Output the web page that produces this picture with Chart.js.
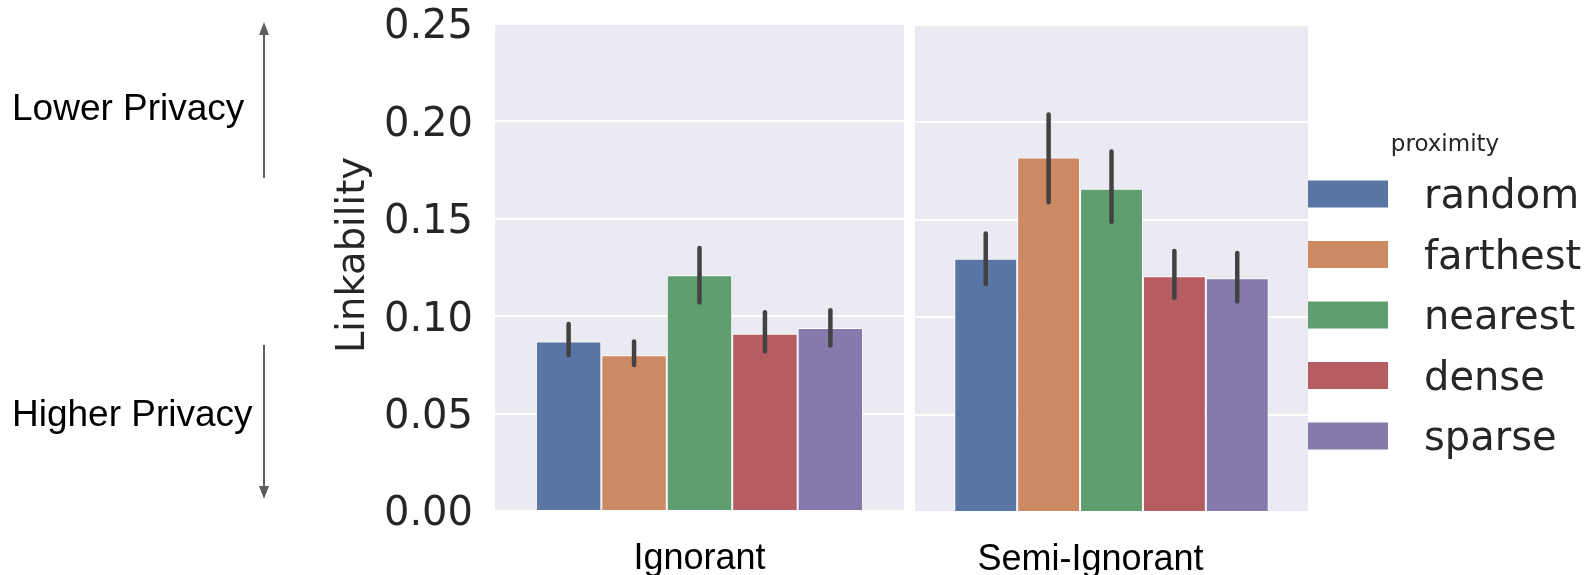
<!DOCTYPE html>
<html>
<head>
<meta charset="utf-8">
<script src="https://cdn.jsdelivr.net/npm/chart.js@4.4.0/dist/chart.umd.min.js"></script>
<style>
  html, body { margin: 0; padding: 0; background: #ffffff; }
  body { width: 1591px; height: 575px; position: relative; overflow: hidden; }
  canvas { position: absolute; top: 0; }
  #leftChart { left: 0; }
  #rightChart { left: 910px; }
</style>
</head>
<body>
<canvas id="leftChart" width="904" height="575"></canvas>
<canvas id="rightChart" width="681" height="575"></canvas>
<script>
// proximity strategies (hue) and their colours
const proximity = ["random", "farthest", "nearest", "dense", "sparse"];
const colors = ["#5975a4", "#cc8963", "#5f9e6e", "#b55d60", "#857aab"];
const yTicks = [0, 0.05, 0.10, 0.15, 0.20, 0.25];

// Ignorant panel
const ignorantMean = [0.087, 0.080, 0.121, 0.091, 0.094];
const ignorantLow  = [0.080, 0.075, 0.107, 0.082, 0.085];
const ignorantHigh = [0.096, 0.087, 0.135, 0.102, 0.103];

// Semi-Ignorant panel
const semiMean = [0.130, 0.182, 0.166, 0.121, 0.120];
const semiLow  = [0.117, 0.159, 0.149, 0.110, 0.108];
const semiHigh = [0.143, 0.204, 0.185, 0.134, 0.133];

const TICK_FONT = "DejaVu Sans";
const LABEL_FONT = "Liberation Sans";
const DARK = "#262626";

const panelBg = {
    id: "panelBg",
    beforeDraw(chart) {
        const { ctx, chartArea: a } = chart;
        ctx.save();
        ctx.fillStyle = "#eaeaf2";
        ctx.fillRect(a.left, a.top, a.width, a.height);
        ctx.restore();
    },
};

const errorBars = {
    id: "errorBars",
    afterDatasetsDraw(chart) {
        const ctx = chart.ctx;
        const y = chart.scales.y;
        ctx.save();
        ctx.strokeStyle = "#424242";
        ctx.lineWidth = 4.5;
        ctx.lineCap = "round";
        chart.data.datasets.forEach((ds, i) => {
            const meta = chart.getDatasetMeta(i);
            meta.data.forEach((bar) => {
                ctx.beginPath();
                ctx.moveTo(bar.x, y.getPixelForValue(ds.errLow));
                ctx.lineTo(bar.x, y.getPixelForValue(ds.errHigh));
                ctx.stroke();
            });
        });
        ctx.restore();
    },
};

// y label, privacy notes and arrows on the left
const leftNotes = {
    id: "leftNotes",
    afterDraw(chart) {
        const ctx = chart.ctx;
        ctx.save();
        ctx.fillStyle = DARK;
        ctx.font = `38.5px "${TICK_FONT}"`;
        ctx.textAlign = "center";
        ctx.textBaseline = "alphabetic";
        ctx.translate(364, 255);
        ctx.rotate(-Math.PI / 2);
        ctx.fillText("Linkability", 0, 0);
        ctx.restore();

        ctx.save();
        ctx.fillStyle = "#000000";
        ctx.font = `37px "${LABEL_FONT}"`;
        ctx.textAlign = "left";
        ctx.textBaseline = "alphabetic";
        ctx.fillText("Lower Privacy", 12, 120);
        ctx.fillText("Higher Privacy", 12, 426);

        const arrow = (x, y0, y1) => {
            const dir = Math.sign(y1 - y0);
            ctx.strokeStyle = "#5f5f5f";
            ctx.fillStyle = "#5f5f5f";
            ctx.lineWidth = 2;
            ctx.beginPath();
            ctx.moveTo(x, y0);
            ctx.lineTo(x, y1 - dir * 10);
            ctx.stroke();
            ctx.beginPath();
            ctx.moveTo(x, y1);
            ctx.lineTo(x - 5, y1 - dir * 13);
            ctx.lineTo(x + 5, y1 - dir * 13);
            ctx.closePath();
            ctx.fill();
        };
        arrow(264, 178, 22);
        arrow(264, 345, 499);
        ctx.restore();
    },
};

const hueLegend = {
    id: "hueLegend",
    afterDraw(chart) {
        const ctx = chart.ctx;
        const x0 = chart.chartArea.right;
        ctx.save();
        ctx.fillStyle = DARK;
        ctx.font = `23px "${TICK_FONT}"`;
        ctx.textAlign = "center";
        ctx.textBaseline = "alphabetic";
        ctx.fillText("proximity", x0 + 137, 151);

        ctx.font = `40px "${TICK_FONT}"`;
        ctx.textAlign = "left";
        chart.data.datasets.forEach((ds, i) => {
            const cy = 194 + i * 60.5;
            ctx.fillStyle = ds.backgroundColor;
            ctx.fillRect(x0, cy - 13.5, 80, 27);
            ctx.fillStyle = DARK;
            ctx.fillText(ds.label, x0 + 116, cy + 14);
        });
        ctx.restore();
    },
};

function makeDatasets(means, lows, highs) {
    return proximity.map((name, i) => ({
        label: name,
        data: [means[i]],
        errLow: lows[i],
        errHigh: highs[i],
        backgroundColor: colors[i],
        borderColor: "#ffffff",
        borderWidth: 1,
        categoryPercentage: 0.8,
        barPercentage: 1.0,
    }));
}

function makeChart(canvasId, category, means, lows, highs, opts) {
    const ctx = document.getElementById(canvasId).getContext("2d");
    return new Chart(ctx, {
        type: "bar",
        data: {
            labels: [category],
            datasets: makeDatasets(means, lows, highs),
        },
        options: {
            responsive: false,
            animation: false,
            layout: { padding: opts.padding },
            plugins: {
                legend: { display: false },
                tooltip: { enabled: false },
            },
            scales: {
                x: {
                    grid: { display: false },
                    border: { display: false },
                    ticks: {
                        color: "#000000",
                        padding: 18,
                        labelOffset: opts.labelOffset,
                        font: { family: LABEL_FONT, size: 36, lineHeight: 1.2 },
                    },
                    afterFit: (s) => {
                        s.height = opts.xHeight;
                        s.paddingLeft = 0;
                        s.paddingRight = 0;
                    },
                },
                y: {
                    min: 0,
                    max: 0.25,
                    afterBuildTicks: (s) => { s.ticks = yTicks.map((v) => ({ value: v })); },
                    grid: { color: "#ffffff", lineWidth: 2, drawTicks: false },
                    border: { display: false },
                    ticks: {
                        display: opts.showY,
                        padding: 22,
                        labelOffset: 4,
                        color: DARK,
                        font: { family: TICK_FONT, size: 40, lineHeight: 1 },
                        callback: (v) => Number(v).toFixed(2),
                    },
                    afterFit: (s) => {
                        s.width = opts.yWidth;
                        s.paddingTop = 0;
                        s.paddingBottom = 0;
                    },
                },
            },
        },
        plugins: [panelBg, errorBars].concat(opts.extra),
    });
}

makeChart("leftChart", "Ignorant", ignorantMean, ignorantLow, ignorantHigh, {
    padding: { left: 300, top: 24, right: 0, bottom: 0 },
    xHeight: 64,
    yWidth: 195,
    showY: true,
    labelOffset: 0,
    extra: [leftNotes],
});

makeChart("rightChart", "Semi-Ignorant", semiMean, semiLow, semiHigh, {
    padding: { left: 5, top: 25, right: 283, bottom: 0 },
    xHeight: 63,
    yWidth: 0,
    showY: false,
    labelOffset: -21,
    extra: [hueLegend],
});
</script>
</body>
</html>
